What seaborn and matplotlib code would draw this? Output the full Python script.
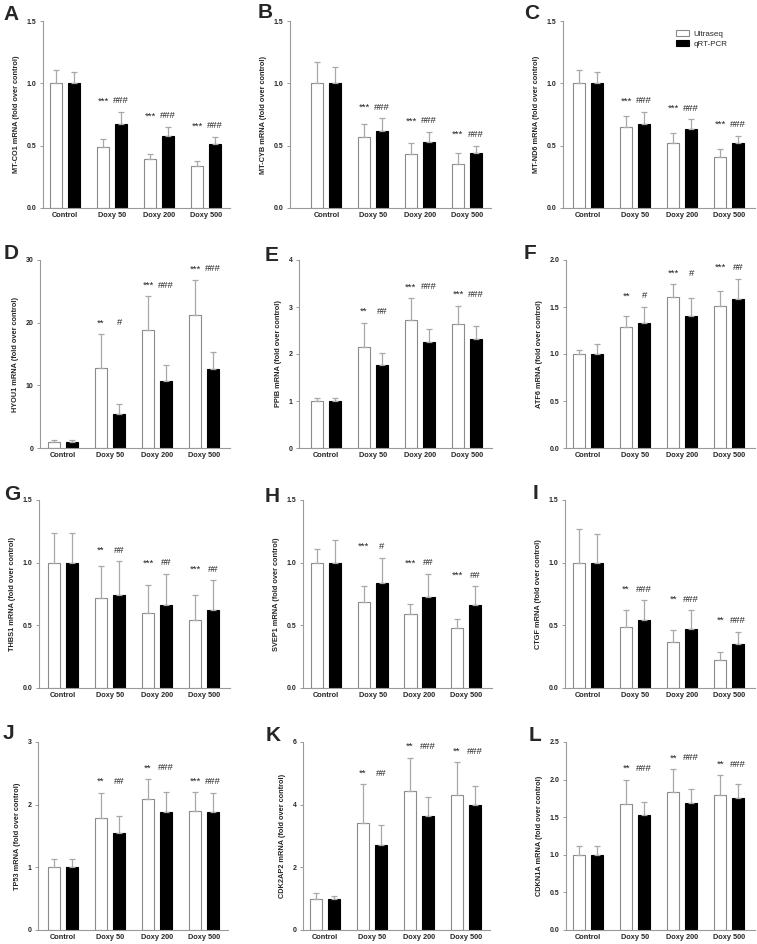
import numpy as np
import pandas as pd
import matplotlib
matplotlib.use("Agg")
import matplotlib.pyplot as plt
import seaborn as sns
from matplotlib.patches import Patch

# the four treatment groups and two methods
groups = ["Control", "Doxy 50", "Doxy 200", "Doxy 500"]
methods = ["Ultraseq", "qRT-PCR"]

# MT-CO1
mtco1_u = [1.0, 0.49, 0.39, 0.34]
mtco1_u_err = [0.11, 0.06, 0.04, 0.04]
mtco1_q = [1.0, 0.67, 0.58, 0.51]
mtco1_q_err = [0.09, 0.10, 0.07, 0.06]
mtco1_sig = ["***", "***", "***"]
mtco1_hash = ["###", "###", "###"]

# MT-CYB
mtcyb_u = [1.0, 0.57, 0.43, 0.35]
mtcyb_u_err = [0.17, 0.10, 0.09, 0.09]
mtcyb_q = [1.0, 0.62, 0.53, 0.44]
mtcyb_q_err = [0.13, 0.10, 0.08, 0.06]
mtcyb_sig = ["***", "***", "***"]
mtcyb_hash = ["###", "###", "###"]

# MT-ND6
mtnd6_u = [1.0, 0.65, 0.52, 0.41]
mtnd6_u_err = [0.11, 0.09, 0.08, 0.06]
mtnd6_q = [1.0, 0.67, 0.63, 0.52]
mtnd6_q_err = [0.09, 0.10, 0.08, 0.06]
mtnd6_sig = ["***", "***", "***"]
mtnd6_hash = ["###", "###", "###"]

# HYOU1
hyou1_u = [1.0, 12.7, 18.8, 21.2]
hyou1_u_err = [0.3, 5.5, 5.4, 5.6]
hyou1_q = [1.0, 5.4, 10.7, 12.6]
hyou1_q_err = [0.2, 1.6, 2.6, 2.7]
hyou1_sig = ["**", "***", "***"]
hyou1_hash = ["#", "###", "###"]

# PPIB
ppib_u = [1.0, 2.15, 2.72, 2.63]
ppib_u_err = [0.06, 0.52, 0.47, 0.40]
ppib_q = [1.0, 1.76, 2.26, 2.31]
ppib_q_err = [0.06, 0.27, 0.28, 0.29]
ppib_sig = ["**", "***", "***"]
ppib_hash = ["##", "###", "###"]

# ATF6
atf6_u = [1.0, 1.29, 1.61, 1.51]
atf6_u_err = [0.04, 0.11, 0.13, 0.16]
atf6_q = [1.0, 1.33, 1.40, 1.59]
atf6_q_err = [0.11, 0.17, 0.20, 0.21]
atf6_sig = ["**", "***", "***"]
atf6_hash = ["#", "#", "##"]

# THBS1
thbs1_u = [1.0, 0.72, 0.60, 0.54]
thbs1_u_err = [0.24, 0.25, 0.22, 0.20]
thbs1_q = [1.0, 0.74, 0.66, 0.62]
thbs1_q_err = [0.24, 0.27, 0.25, 0.24]
thbs1_sig = ["**", "***", "***"]
thbs1_hash = ["##", "##", "##"]

# SVEP1
svep1_u = [1.0, 0.69, 0.59, 0.48]
svep1_u_err = [0.11, 0.12, 0.08, 0.07]
svep1_q = [1.0, 0.84, 0.73, 0.66]
svep1_q_err = [0.18, 0.20, 0.18, 0.15]
svep1_sig = ["***", "***", "***"]
svep1_hash = ["#", "##", "##"]

# CTGF
ctgf_u = [1.0, 0.49, 0.37, 0.22]
ctgf_u_err = [0.27, 0.13, 0.09, 0.07]
ctgf_q = [1.0, 0.54, 0.47, 0.35]
ctgf_q_err = [0.23, 0.16, 0.15, 0.10]
ctgf_sig = ["**", "**", "**"]
ctgf_hash = ["###", "###", "###"]

# TP53
tp53_u = [1.0, 1.79, 2.09, 1.90]
tp53_u_err = [0.13, 0.40, 0.32, 0.30]
tp53_q = [1.0, 1.55, 1.88, 1.88]
tp53_q_err = [0.14, 0.27, 0.33, 0.30]
tp53_sig = ["**", "**", "***"]
tp53_hash = ["##", "###", "###"]

# CDK2AP2
cdk2ap2_u = [1.0, 3.40, 4.45, 4.30]
cdk2ap2_u_err = [0.17, 1.25, 1.05, 1.05]
cdk2ap2_q = [1.0, 2.72, 3.65, 3.98]
cdk2ap2_q_err = [0.10, 0.62, 0.60, 0.60]
cdk2ap2_sig = ["**", "**", "**"]
cdk2ap2_hash = ["##", "###", "###"]

# CDKN1A
cdkn1a_u = [1.0, 1.67, 1.83, 1.80]
cdkn1a_u_err = [0.12, 0.33, 0.31, 0.26]
cdkn1a_q = [1.0, 1.53, 1.69, 1.76]
cdkn1a_q_err = [0.12, 0.17, 0.19, 0.18]
cdkn1a_sig = ["**", "**", "**"]
cdkn1a_hash = ["###", "###", "###"]

# y axis ticks per panel
ticks_15 = [0.0, 0.5, 1.0, 1.5]
ticks_30 = [0, 10, 20, 30]
ticks_4 = [0, 1, 2, 3, 4]
ticks_2 = [0.0, 0.5, 1.0, 1.5, 2.0]
ticks_3 = [0, 1, 2, 3]
ticks_6 = [0, 2, 4, 6]
ticks_25 = [0.0, 0.5, 1.0, 1.5, 2.0, 2.5]

panels = [
    ("A", "MT-CO1", mtco1_u, mtco1_u_err, mtco1_q, mtco1_q_err, mtco1_sig, mtco1_hash, ticks_15, "%.1f"),
    ("B", "MT-CYB", mtcyb_u, mtcyb_u_err, mtcyb_q, mtcyb_q_err, mtcyb_sig, mtcyb_hash, ticks_15, "%.1f"),
    ("C", "MT-ND6", mtnd6_u, mtnd6_u_err, mtnd6_q, mtnd6_q_err, mtnd6_sig, mtnd6_hash, ticks_15, "%.1f"),
    ("D", "HYOU1", hyou1_u, hyou1_u_err, hyou1_q, hyou1_q_err, hyou1_sig, hyou1_hash, ticks_30, "%d"),
    ("E", "PPIB", ppib_u, ppib_u_err, ppib_q, ppib_q_err, ppib_sig, ppib_hash, ticks_4, "%d"),
    ("F", "ATF6", atf6_u, atf6_u_err, atf6_q, atf6_q_err, atf6_sig, atf6_hash, ticks_2, "%.1f"),
    ("G", "THBS1", thbs1_u, thbs1_u_err, thbs1_q, thbs1_q_err, thbs1_sig, thbs1_hash, ticks_15, "%.1f"),
    ("H", "SVEP1", svep1_u, svep1_u_err, svep1_q, svep1_q_err, svep1_sig, svep1_hash, ticks_15, "%.1f"),
    ("I", "CTGF", ctgf_u, ctgf_u_err, ctgf_q, ctgf_q_err, ctgf_sig, ctgf_hash, ticks_15, "%.1f"),
    ("J", "TP53", tp53_u, tp53_u_err, tp53_q, tp53_q_err, tp53_sig, tp53_hash, ticks_3, "%d"),
    ("K", "CDK2AP2", cdk2ap2_u, cdk2ap2_u_err, cdk2ap2_q, cdk2ap2_q_err, cdk2ap2_sig, cdk2ap2_hash, ticks_6, "%d"),
    ("L", "CDKN1A", cdkn1a_u, cdkn1a_u_err, cdkn1a_q, cdkn1a_q_err, cdkn1a_sig, cdkn1a_hash, ticks_25, "%.1f"),
]

# layout in pixels (figure is 757 x 944)
W, H = 757, 944
# axes left/right pixel per panel and the x limits (category units)
axes_x = [(43, 230), (290, 491), (563, 755),
          (40, 230), (299, 492), (566, 755),
          (39, 230), (303, 492), (565, 755),
          (38, 228), (303, 490), (566, 755)]
axes_xlim = [(-0.47, 3.51), (-0.78, 3.52), (-0.53, 3.55),
             (-0.49, 3.55), (-0.57, 3.53), (-0.47, 3.55),
             (-0.51, 3.55), (-0.49, 3.55), (-0.49, 3.55),
             (-0.53, 3.51), (-0.47, 3.51), (-0.47, 3.55)]
row_y = [(21, 208), (260, 448), (500, 688), (742, 930)]
letter_pos = [(3, 20), (258, 18), (524, 19), (4, 259), (265, 261), (524, 259),
              (4, 500), (265, 502), (533, 499), (3, 739), (266, 741), (529, 741)]

sns.set_style("ticks")
plt.rcParams['font.family'] = ['Liberation Sans', 'DejaVu Sans']

grey = "#9a9a9a"
fig = plt.figure(figsize=(W / 100, H / 100), dpi=100)

for k, (letter, gene, u, ue, q, qe, sig, hsh, yt, fmt) in enumerate(panels):
    r = k // 3
    x0, x1 = axes_x[k]
    yt0, yb0 = row_y[r]
    ax = fig.add_axes([x0 / W, 1 - yb0 / H, (x1 - x0) / W, (yb0 - yt0) / H])

    df = pd.DataFrame({
        "group": groups * 2,
        "method": [methods[0]] * 4 + [methods[1]] * 4,
        "value": u + q,
    })
    sns.barplot(data=df, x="group", y="value", hue="method", order=groups,
                hue_order=methods, palette={"Ultraseq": "white", "qRT-PCR": "black"},
                width=0.77, gap=0.33, errorbar=None, linewidth=0.8,
                legend=False, ax=ax)
    for p in ax.containers[0]:
        p.set_edgecolor("#8a8a8a")
    for p in ax.containers[1]:
        p.set_edgecolor("black")

    # one-sided error bars on top of each bar
    ymax = yt[-1]
    tops = []
    for cont, errs in zip(ax.containers[:2], [ue, qe]):
        xs = np.array([p.get_x() + p.get_width() / 2 for p in cont])
        ys = np.array([p.get_height() for p in cont])
        ax.errorbar(xs, ys, yerr=[np.zeros(4), errs], fmt="none", ecolor="#a8a8a8",
                    elinewidth=0.9, capsize=2.3, capthick=0.9, zorder=1)
        tops.append((xs, ys + np.array(errs)))

    for i in range(1, 4):
        ytxt = max(tops[0][1][i], tops[1][1][i]) + 0.035 * ymax
        ax.text(tops[0][0][i], ytxt, sig[i - 1], ha="center", va="bottom", fontsize=6.8)
        ax.text(tops[1][0][i], ytxt, hsh[i - 1], ha="center", va="bottom", fontsize=6.8)

    ax.set_xlim(*axes_xlim[k])
    ax.set_ylim(0, ymax)
    ax.set_yticks(yt)
    ax.set_yticklabels([fmt % v for v in yt])
    ax.set_xlabel("")
    ax.set_ylabel(gene + " mRNA (fold over control)", fontsize=5.3, fontweight="bold", labelpad=5)
    sns.despine(ax=ax)
    for s in ["left", "bottom"]:
        ax.spines[s].set_color(grey)
        ax.spines[s].set_linewidth(0.8)
    ax.tick_params(axis="y", labelsize=5, length=2.5, width=0.7, color=grey, pad=2)
    ax.tick_params(axis="x", labelsize=5.3, length=0, pad=3)
    for t in ax.get_xticklabels() + ax.get_yticklabels():
        t.set_fontweight("bold")

    lx, ly = letter_pos[k]
    fig.text(lx / W, 1 - ly / H, letter, fontsize=15, fontweight="bold",
             ha="left", va="baseline")

    if letter == "C":
        handles = [Patch(facecolor="white", edgecolor="#8a8a8a", linewidth=0.8),
                   Patch(facecolor="black", edgecolor="black", linewidth=0.8)]
        ax.legend(handles, methods, loc="upper left", bbox_to_anchor=(0.57, 0.97),
                  frameon=False, fontsize=5.8, handlelength=1.6, handleheight=0.8,
                  handletextpad=0.6, labelspacing=0.3, borderaxespad=0)

fig.savefig("out.png", dpi=100)
